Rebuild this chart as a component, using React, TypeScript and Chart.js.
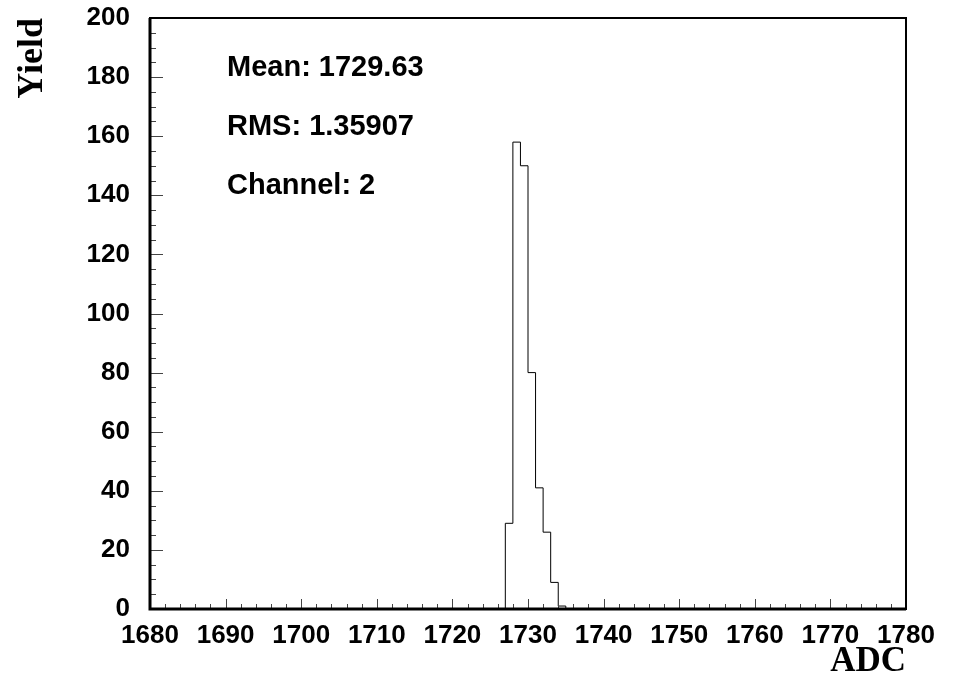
import React, { useEffect, useRef } from 'react';
import { Chart, registerables } from 'chart.js';

Chart.register(...registerables);

// ---- data ----
const binStarts = [1727, 1728, 1729, 1730, 1731, 1732, 1733, 1734];
const counts = [29, 158, 150, 80, 41, 26, 9, 1];
const binWidth = 1;
const xMin = 1680;
const xMax = 1780;
const yMin = 0;
const yMax = 200;
const xMajorStep = 10;
const xMinorStep = 2;
const yMajorStep = 20;
const yMinorStep = 5;
const statsLines = ['Mean: 1729.63', 'RMS: 1.35907', 'Channel: 2'];
const xTitle = 'ADC';
const yTitle = 'Yield';

const rootFramePlugin = {
  id: 'rootFrame',
  afterDatasetsDraw(chart: any) {
    const { ctx, chartArea, scales } = chart;
    const { left, right, top, bottom } = chartArea;
    const x = scales.x;
    const y = scales.y;
    ctx.save();
    // inner tick marks
    ctx.strokeStyle = '#444';
    ctx.lineWidth = 1;
    ctx.beginPath();
    for (let v = xMin; v <= xMax + 1e-9; v += xMinorStep) {
      const px = Math.round(x.getPixelForValue(v)) + 0.5;
      const len = Math.abs(v % xMajorStep) < 1e-9 ? 10 : 5;
      ctx.moveTo(px, bottom);
      ctx.lineTo(px, bottom - len);
    }
    for (let v = yMin; v <= yMax + 1e-9; v += yMinorStep) {
      const py = Math.round(y.getPixelForValue(v)) + 0.5;
      const len = Math.abs(v % yMajorStep) < 1e-9 ? 13 : 6;
      ctx.moveTo(left, py);
      ctx.lineTo(left + len, py);
    }
    ctx.stroke();
    // frame
    ctx.strokeStyle = '#000';
    ctx.lineWidth = 2;
    ctx.strokeRect(left, top, right - left, bottom - top);
    ctx.lineWidth = 3;
    ctx.beginPath();
    ctx.moveTo(left, top);
    ctx.lineTo(left, bottom);
    ctx.lineTo(right, bottom);
    ctx.stroke();
    // stats text
    ctx.fillStyle = '#000';
    ctx.font = 'bold 29px "Liberation Sans", Arial, sans-serif';
    ctx.textAlign = 'left';
    ctx.textBaseline = 'alphabetic';
    statsLines.forEach((t, i) => {
      ctx.fillText(t, left + 77, top + 58 + i * 59);
    });
    ctx.restore();
  },
};

export default function App() {
  const canvasRef = useRef<HTMLCanvasElement | null>(null);

  useEffect(() => {
    if (!canvasRef.current) return;
    const points: { x: number; y: number }[] = [{ x: xMin, y: 0 }];
    binStarts.forEach((b, i) => points.push({ x: b, y: counts[i] }));
    points.push({ x: binStarts[binStarts.length - 1] + binWidth, y: 0 });
    points.push({ x: xMax, y: 0 });

    const tickFont = { family: '"Liberation Sans", Arial, sans-serif', size: 26, weight: 'bold' as const };

    const chart = new Chart(canvasRef.current, {
      type: 'line',
      data: {
        datasets: [
          {
            data: points,
            stepped: true,
            borderColor: '#000',
            borderWidth: 1,
            pointRadius: 0,
            fill: false,
          },
        ],
      },
      options: {
        animation: false,
        responsive: true,
        maintainAspectRatio: false,
        events: [],
        layout: { padding: { left: 0, right: 54, top: 18, bottom: 0 } },
        plugins: { legend: { display: false }, tooltip: { enabled: false } },
        scales: {
          x: {
            type: 'linear',
            min: xMin,
            max: xMax,
            grid: { display: false, drawTicks: false },
            border: { display: false },
            ticks: {
              stepSize: xMajorStep,
              padding: 11,
              color: '#000',
              font: tickFont,
              maxRotation: 0,
              autoSkip: false,
              callback: (v: any) => String(v),
            },
            title: {
              display: true,
              text: xTitle,
              align: 'end',
              color: '#000',
              padding: { top: 0, bottom: -1 },
              font: { family: '"Liberation Serif", "Times New Roman", serif', size: 35, weight: 'bold' },
            },
            afterFit: (s: any) => {
              s.height = 73;
              s.paddingLeft = 0;
              s.paddingRight = 0;
            },
          },
          y: {
            type: 'linear',
            min: yMin,
            max: yMax,
            grid: { display: false, drawTicks: false },
            border: { display: false },
            ticks: {
              stepSize: yMajorStep,
              padding: 20,
              color: '#000',
              font: tickFont,
              callback: (v: any) => String(v),
            },
            title: {
              display: true,
              text: yTitle,
              align: 'end',
              color: '#000',
              padding: { top: 11, bottom: 0 },
              font: { family: '"Liberation Serif", "Times New Roman", serif', size: 36, weight: 'bold' },
            },
            afterFit: (s: any) => {
              s.width = 150;
              s.paddingTop = 0;
              s.paddingBottom = 0;
            },
          },
        },
      },
      plugins: [rootFramePlugin],
    });
    return () => chart.destroy();
  }, []);

  return (
    <div style={{ position: 'fixed', left: 0, top: 0, width: 960, height: 682, background: '#fff' }}>
      <canvas ref={canvasRef} />
    </div>
  );
}
